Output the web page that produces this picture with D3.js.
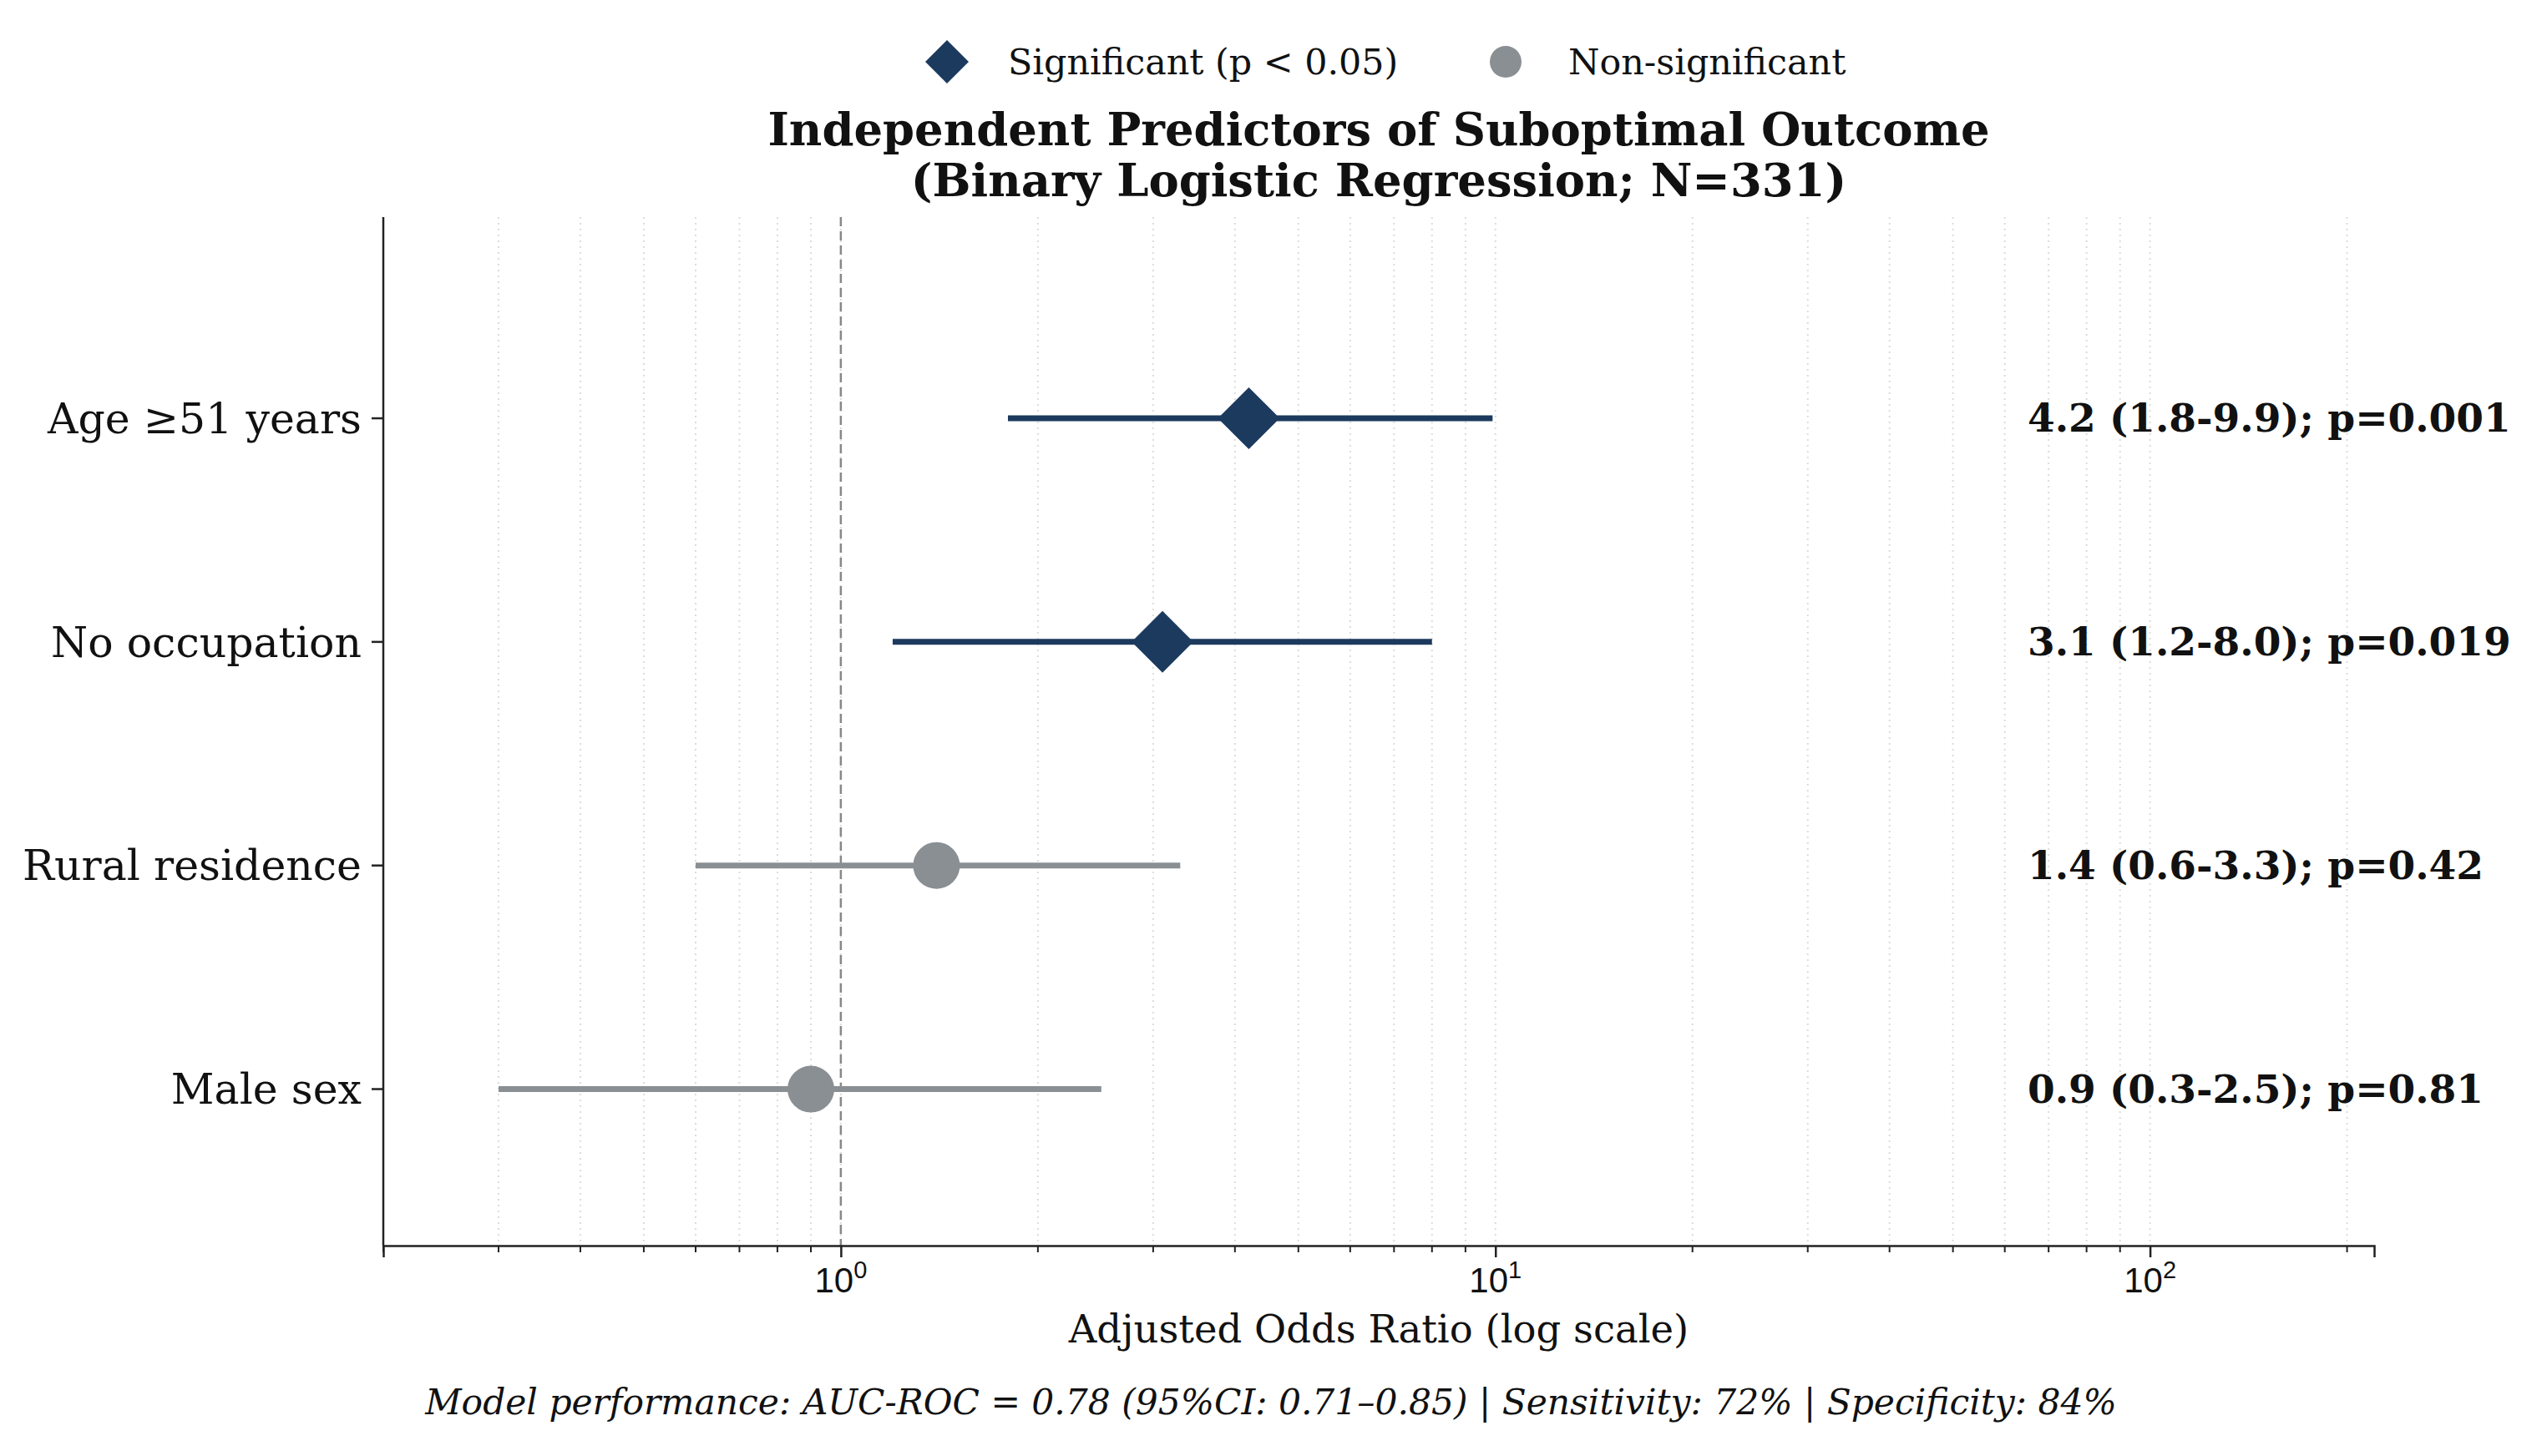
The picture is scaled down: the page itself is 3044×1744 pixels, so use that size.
<!DOCTYPE html>
<html>
<head>
<meta charset="UTF-8">
<script src="https://cdn.jsdelivr.net/npm/d3@7"></script>
<style>
  body { margin: 0; background: #fff; }
  svg { display: block; font-family: "DejaVu Serif", serif; }
  .grid line { stroke: #dcdcdc; stroke-width: 2; stroke-dasharray: 2 5; }
  .axis path, .axis line { stroke: #222; }
</style>
</head>
<body>
<div id="chart"></div>
<script>
// data
var predictors = ["Age \u226551 years", "No occupation", "Rural residence", "Male sex"];
var oddsRatio = [4.2, 3.1, 1.4, 0.9];
var ciLow = [1.8, 1.2, 0.6, 0.3];
var ciHigh = [9.9, 8.0, 3.3, 2.5];
var pValues = ["0.001", "0.019", "0.42", "0.81"];
var significant = [true, true, false, false];
var legendLabels = ["Significant (p < 0.05)", "Non-significant"];
var majorTicks = [1, 10, 100];
var minorTicks = [0.2, 0.3, 0.4, 0.5, 0.6, 0.7, 0.8, 0.9, 2, 3, 4, 5, 6, 7, 8, 9,
                  20, 30, 40, 50, 60, 70, 80, 90, 200];

var W = 3044, H = 1744;
var m = { left: 459, right: 3044 - 2843, top: 260, bottom: 1744 - 1492 };
var navy = "#1c3a5e", grey = "#8a8f94";

var svg = d3.select("#chart").append("svg")
    .attr("width", W).attr("height", H);

var x = d3.scaleLog().domain([0.2, 220]).range([m.left, W - m.right]);
// rows: last predictor at 0, first at top
var y = d3.scaleLinear().domain([-0.7, 3.9]).range([H - m.bottom, m.top]);
var rowY = function(i) { return y(predictors.length - 1 - i); };

// dotted grid on all ticks
svg.append("g").attr("class", "grid")
  .selectAll("line").data(majorTicks.concat(minorTicks)).enter().append("line")
    .attr("x1", function(d) { return x(d); }).attr("x2", function(d) { return x(d); })
    .attr("y1", m.top).attr("y2", H - m.bottom);

// reference line at OR = 1
svg.append("line")
    .attr("x1", x(1)).attr("x2", x(1))
    .attr("y1", m.top).attr("y2", H - m.bottom)
    .attr("stroke", "#888").attr("stroke-width", 2.5)
    .attr("stroke-dasharray", "11 6");

// x axis: major + minor ticks
var xAxis = svg.append("g").attr("class", "axis")
    .attr("transform", "translate(0," + (H - m.bottom) + ")");
xAxis.call(d3.axisBottom(x).tickValues(majorTicks).tickSize(14).tickFormat(""));
xAxis.select(".domain").attr("stroke-width", 2.5);
xAxis.selectAll(".tick line").attr("stroke-width", 2.5);
xAxis.selectAll(".minor").data(minorTicks).enter().append("line")
    .attr("class", "minor")
    .attr("x1", function(d) { return x(d); }).attr("x2", function(d) { return x(d); })
    .attr("y1", 0).attr("y2", 8)
    .attr("stroke", "#222").attr("stroke-width", 2);

// x tick labels as 10 with superscript power
var tl = xAxis.selectAll(".tlab").data(majorTicks).enter().append("text")
    .attr("class", "tlab")
    .attr("x", function(d) { return x(d); })
    .attr("y", 56)
    .attr("text-anchor", "middle")
    .attr("font-size", 42).attr("fill", "#111");
tl.append("tspan").text("10");
tl.append("tspan").attr("dy", -17).attr("font-size", 29)
    .text(function(d) { return Math.round(Math.log10(d)); });

// y axis
var yAxis = svg.append("g").attr("class", "axis")
    .attr("transform", "translate(" + m.left + ",0)");
yAxis.append("line")
    .attr("x1", 0).attr("x2", 0).attr("y1", m.top).attr("y2", H - m.bottom)
    .attr("stroke", "#222").attr("stroke-width", 2.5);
yAxis.selectAll(".ytick").data(predictors).enter().append("line")
    .attr("class", "ytick")
    .attr("x1", -14).attr("x2", 0)
    .attr("y1", function(d, i) { return rowY(i); })
    .attr("y2", function(d, i) { return rowY(i); })
    .attr("stroke", "#222").attr("stroke-width", 2.5);
yAxis.selectAll(".ylab").data(predictors).enter().append("text")
    .attr("class", "ylab")
    .attr("x", -26)
    .attr("y", function(d, i) { return rowY(i); })
    .attr("dy", "0.35em")
    .attr("text-anchor", "end")
    .attr("font-size", 50.5).attr("fill", "#111")
    .text(function(d) { return d; });

// confidence intervals
svg.append("g").selectAll("line").data(predictors).enter().append("line")
    .attr("x1", function(d, i) { return x(ciLow[i]); })
    .attr("x2", function(d, i) { return x(ciHigh[i]); })
    .attr("y1", function(d, i) { return rowY(i); })
    .attr("y2", function(d, i) { return rowY(i); })
    .attr("stroke", function(d, i) { return significant[i] ? navy : grey; })
    .attr("stroke-width", 7);

// point estimates
var diamond = function(r) { return "M0," + (-r) + "L" + r + ",0L0," + r + "L" + (-r) + ",0Z"; };
svg.append("g").selectAll("path").data(predictors).enter().append("path")
    .attr("transform", function(d, i) { return "translate(" + x(oddsRatio[i]) + "," + rowY(i) + ")"; })
    .attr("d", function(d, i) {
      return significant[i] ? diamond(37) : d3.symbol(d3.symbolCircle, Math.PI * 28 * 28)();
    })
    .attr("fill", function(d, i) { return significant[i] ? navy : grey; });

// annotations on the right
svg.append("g").selectAll("text").data(predictors).enter().append("text")
    .attr("x", x(65))
    .attr("y", function(d, i) { return rowY(i); })
    .attr("dy", "0.35em")
    .attr("font-size", 47).attr("font-weight", "bold").attr("fill", "#111")
    .text(function(d, i) {
      return oddsRatio[i].toFixed(1) + " (" + ciLow[i].toFixed(1) + "-" + ciHigh[i].toFixed(1) + "); p=" + pValues[i];
    });

// legend
var lg = svg.append("g");
lg.append("path").attr("transform", "translate(1134,74)").attr("d", diamond(26)).attr("fill", navy);
lg.append("text").attr("x", 1207).attr("y", 74).attr("dy", "0.35em")
    .attr("font-size", 42.8).attr("fill", "#111").text(legendLabels[0]);
lg.append("circle").attr("cx", 1803).attr("cy", 74).attr("r", 19).attr("fill", grey);
lg.append("text").attr("x", 1878).attr("y", 74).attr("dy", "0.35em")
    .attr("font-size", 42.8).attr("fill", "#111").text(legendLabels[1]);

// title
var cx = (m.left + W - m.right) / 2;
svg.append("text").attr("x", cx).attr("y", 174).attr("text-anchor", "middle")
    .attr("font-size", 54.4).attr("font-weight", "bold").attr("fill", "#111")
    .text("Independent Predictors of Suboptimal Outcome");
svg.append("text").attr("x", cx).attr("y", 235).attr("text-anchor", "middle")
    .attr("font-size", 54.4).attr("font-weight", "bold").attr("fill", "#111")
    .text("(Binary Logistic Regression; N=331)");

// axis label and footer
svg.append("text").attr("x", cx).attr("y", 1608).attr("text-anchor", "middle")
    .attr("font-size", 46.5).attr("fill", "#111")
    .text("Adjusted Odds Ratio (log scale)");
svg.append("text").attr("x", 1522).attr("y", 1694).attr("text-anchor", "middle")
    .attr("font-size", 42.4).attr("font-style", "italic").attr("fill", "#111")
    .text("Model performance: AUC-ROC = 0.78 (95%CI: 0.71\u20130.85) | Sensitivity: 72% | Specificity: 84%");
</script>
</body>
</html>
